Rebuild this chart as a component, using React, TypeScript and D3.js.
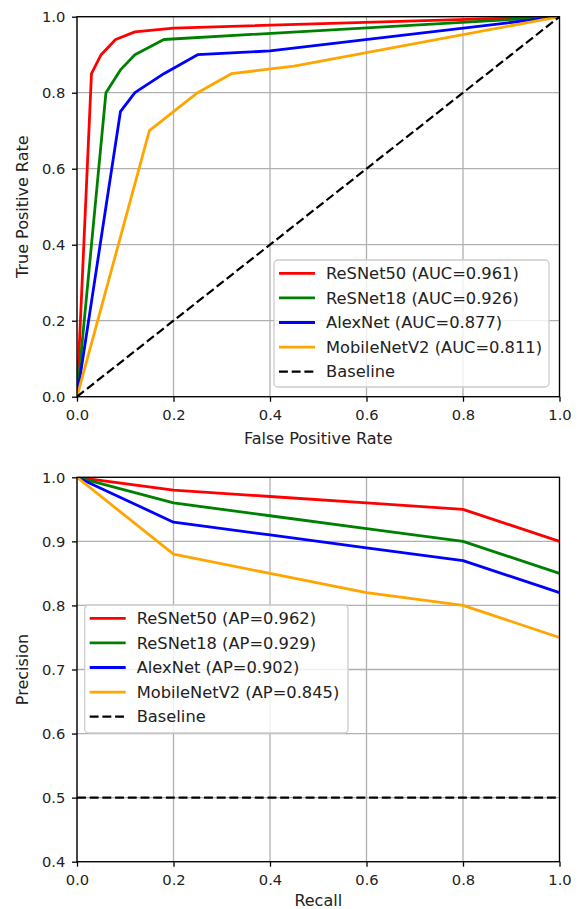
import React, { useEffect, useRef } from 'react';
import * as d3 from 'd3';

// models and their scores
const modelNames = ['ReSNet50', 'ReSNet18', 'AlexNet', 'MobileNetV2'];
const aucScores = ['0.961', '0.926', '0.877', '0.811'];
const apScores = ['0.962', '0.929', '0.902', '0.845'];

// ROC curves
const resnet50Fpr = [0, 0.03, 0.05, 0.08, 0.12, 0.2, 1];
const resnet50Tpr = [0, 0.85, 0.9, 0.94, 0.96, 0.97, 1];
const resnet18Fpr = [0, 0.06, 0.09, 0.12, 0.18, 1];
const resnet18Tpr = [0, 0.8, 0.86, 0.9, 0.94, 1];
const alexnetFpr = [0, 0.09, 0.12, 0.18, 0.25, 0.4, 1];
const alexnetTpr = [0, 0.75, 0.8, 0.85, 0.9, 0.91, 1];
const mobilenetFpr = [0, 0.15, 0.25, 0.32, 0.45, 1];
const mobilenetTpr = [0, 0.7, 0.8, 0.85, 0.87, 1];
const rocBaseline = [0, 1];

// PR curves
const recall = [0, 0.2, 0.4, 0.6, 0.8, 1];
const resnet50Prec = [1, 0.98, 0.97, 0.96, 0.95, 0.9];
const resnet18Prec = [1, 0.96, 0.94, 0.92, 0.9, 0.85];
const alexnetPrec = [1, 0.93, 0.91, 0.89, 0.87, 0.82];
const mobilenetPrec = [1, 0.88, 0.85, 0.82, 0.8, 0.75];
const prBaselineX = [0, 1];
const prBaselineY = [0.5, 0.5];

const rocTicks = [0, 0.2, 0.4, 0.6, 0.8, 1];
const prYTicks = [0.4, 0.5, 0.6, 0.7, 0.8, 0.9, 1];

const colors = ['#ff0000', '#008000', '#0000ff', '#ffa500'];

const width = 583;
const height = 909;
const left = 77;
const right = 559.5;
const rocTop = 16.7;
const rocBottom = 396.7;
const prTop = 477.3;
const prBottom = 861.7;
const font = '"DejaVu Sans", sans-serif';
const tickFont = 14.7;
const labelFont = 16;
const legendFont = 16.3;
const lineW = 2.8;

type Series = { x: number[]; y: number[]; color: string; dashed?: boolean };

function drawPanel(svg: any, id: string, top: number, bottom: number, yDomain: [number, number],
    yTicks: number[], series: Series[], xLabel: string, xLabelY: number, yLabel: string,
    legendLabels: string[], legendBox: { x: number; y: number; w: number; h: number }) {

    const x = d3.scaleLinear().domain([0, 1]).range([left, right]);
    const y = d3.scaleLinear().domain(yDomain).range([bottom, top]);

    const g = svg.append('g');

    g.append('clipPath').attr('id', id)
        .append('rect')
        .attr('x', left).attr('y', top)
        .attr('width', right - left).attr('height', bottom - top);

    // grid
    g.append('g').selectAll('line').data(rocTicks).join('line')
        .attr('x1', d => x(d)).attr('x2', d => x(d))
        .attr('y1', top).attr('y2', bottom)
        .attr('stroke', '#b0b0b0').attr('stroke-width', 1.3);
    g.append('g').selectAll('line').data(yTicks).join('line')
        .attr('y1', d => y(d)).attr('y2', d => y(d))
        .attr('x1', left).attr('x2', right)
        .attr('stroke', '#b0b0b0').attr('stroke-width', 1.3);

    const line = d3.line<[number, number]>().x(d => x(d[0])).y(d => y(d[1]));

    g.append('g').attr('clip-path', `url(#${id})`)
        .selectAll('path').data(series).join('path')
        .attr('d', s => line(s.x.map((v, i) => [v, s.y[i]] as [number, number])))
        .attr('fill', 'none')
        .attr('stroke', s => s.color)
        .attr('stroke-width', s => s.dashed ? 2.2 : lineW)
        .attr('stroke-dasharray', s => s.dashed ? '8.9,3.8' : null)
        .attr('stroke-linejoin', 'round');

    // axes
    const xAxis = g.append('g')
        .attr('transform', `translate(0, ${bottom})`)
        .call(d3.axisBottom(x).tickValues(rocTicks).tickFormat(d3.format('.1f')).tickSize(5).tickSizeOuter(0));
    const yAxis = g.append('g')
        .attr('transform', `translate(${left}, 0)`)
        .call(d3.axisLeft(y).tickValues(yTicks).tickFormat(d3.format('.1f')).tickSize(5).tickSizeOuter(0));

    [xAxis, yAxis].forEach(a => {
        a.select('.domain').remove();
        a.selectAll('line').attr('stroke', '#000').attr('stroke-width', 1.3);
        a.selectAll('text').attr('font-family', font).attr('font-size', tickFont).attr('fill', '#222');
    });
    xAxis.selectAll('text').attr('y', 23.3).attr('dy', null);
    yAxis.selectAll('text').attr('x', -11.7).attr('dy', '0.36em');

    g.append('rect')
        .attr('x', left).attr('y', top)
        .attr('width', right - left).attr('height', bottom - top)
        .attr('fill', 'none').attr('stroke', '#000').attr('stroke-width', 1.3);

    g.append('text')
        .attr('x', (left + right) / 2).attr('y', xLabelY)
        .attr('text-anchor', 'middle')
        .attr('font-family', font).attr('font-size', labelFont).attr('fill', '#222')
        .text(xLabel);
    g.append('text')
        .attr('transform', `translate(28.3, ${(top + bottom) / 2}) rotate(-90)`)
        .attr('text-anchor', 'middle')
        .attr('font-family', font).attr('font-size', labelFont).attr('fill', '#222')
        .text(yLabel);

    // legend
    const lg = g.append('g');
    lg.append('rect')
        .attr('x', legendBox.x).attr('y', legendBox.y)
        .attr('width', legendBox.w).attr('height', legendBox.h)
        .attr('rx', 4)
        .attr('fill', 'rgba(255,255,255,0.8)')
        .attr('stroke', '#cccccc').attr('stroke-width', 1.3);

    const rowStep = 24.6;
    const rows = lg.selectAll('g.row').data(series).join('g')
        .attr('class', 'row')
        .attr('transform', (_, i) => `translate(${legendBox.x}, ${legendBox.y + 13.3 + i * rowStep})`);
    rows.append('line')
        .attr('x1', 5).attr('x2', 41)
        .attr('stroke', s => s.color)
        .attr('stroke-width', s => s.dashed ? 2.2 : lineW)
        .attr('stroke-dasharray', s => s.dashed ? '8.9,3.8' : null);
    rows.append('text')
        .attr('x', 52).attr('y', 5.7)
        .attr('font-family', font).attr('font-size', legendFont).attr('fill', '#222')
        .text((_, i) => legendLabels[i]);
}

export default function App() {
    const svgRef = useRef<SVGSVGElement>(null);

    useEffect(() => {
        const svg = d3.select(svgRef.current);
        svg.selectAll('*').remove();

        const rocSeries: Series[] = [
            { x: resnet50Fpr, y: resnet50Tpr, color: colors[0] },
            { x: resnet18Fpr, y: resnet18Tpr, color: colors[1] },
            { x: alexnetFpr, y: alexnetTpr, color: colors[2] },
            { x: mobilenetFpr, y: mobilenetTpr, color: colors[3] },
            { x: rocBaseline, y: rocBaseline, color: '#000', dashed: true },
        ];
        const prSeries: Series[] = [
            { x: recall, y: resnet50Prec, color: colors[0] },
            { x: recall, y: resnet18Prec, color: colors[1] },
            { x: recall, y: alexnetPrec, color: colors[2] },
            { x: recall, y: mobilenetPrec, color: colors[3] },
            { x: prBaselineX, y: prBaselineY, color: '#000', dashed: true },
        ];

        drawPanel(svg, 'clipRoc', rocTop, rocBottom, [0, 1], rocTicks, rocSeries,
            'False Positive Rate', rocBottom + 47.3, 'True Positive Rate',
            [...modelNames.map((m, i) => `${m} (AUC=${aucScores[i]})`), 'Baseline'],
            { x: 274, y: 260, w: 275, h: 127 });

        drawPanel(svg, 'clipPr', prTop, prBottom, [0.4, 1], prYTicks, prSeries,
            'Recall', 905.5, 'Precision',
            [...modelNames.map((m, i) => `${m} (AP=${apScores[i]})`), 'Baseline'],
            { x: 84.7, y: 605, w: 263.3, h: 128 });
    }, []);

    return (
        <svg ref={svgRef} width={width} height={height}
            style={{ position: 'absolute', left: 0, top: 0, background: '#fff' }}></svg>
    );
}
